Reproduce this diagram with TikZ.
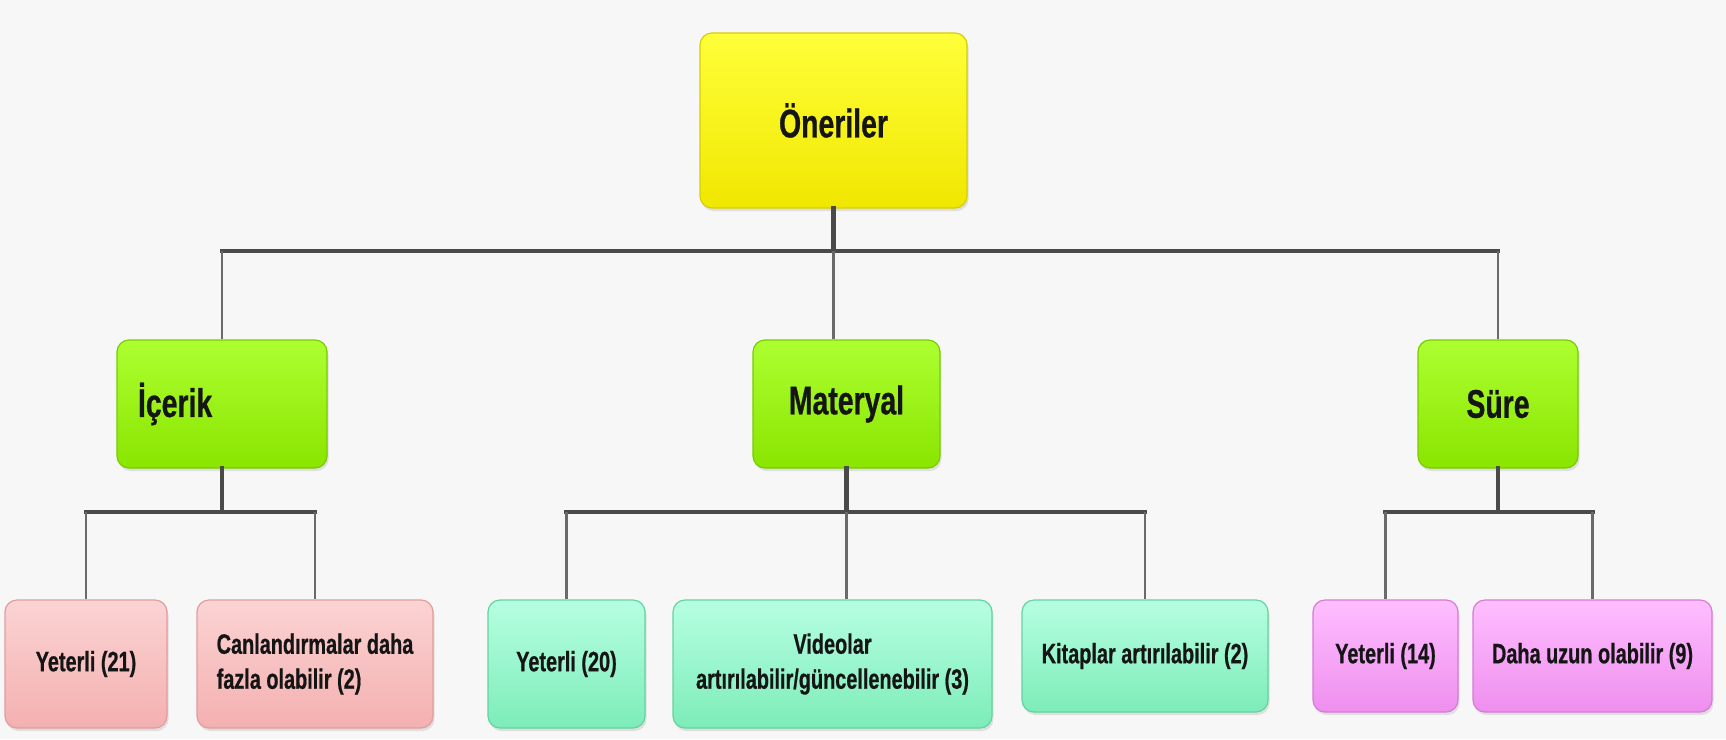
\documentclass[tikz,border=0pt]{standalone}
\usepackage{fontspec}
\newfontfamily\boxfont{Liberation Sans}[FakeStretch=0.71, FakeBold=0.6]
\usetikzlibrary{shadows}

\definecolor{bg}{HTML}{F7F7F7}
\definecolor{txt}{HTML}{151515}
\definecolor{linkc}{HTML}{4A4A4A}
\definecolor{twigc}{HTML}{6A6A6A}
% yellow root
\definecolor{yelT}{HTML}{FFFF3A}
\definecolor{yelB}{HTML}{F0E700}
\definecolor{yelD}{HTML}{D6CF00}
% lime category boxes
\definecolor{grnT}{HTML}{ADFF30}
\definecolor{grnB}{HTML}{8AE500}
\definecolor{grnD}{HTML}{79CC00}
% pink leaves
\definecolor{pnkT}{HTML}{FBD3D3}
\definecolor{pnkB}{HTML}{F4B0B0}
\definecolor{pnkD}{HTML}{E39C9C}
% mint leaves
\definecolor{mntT}{HTML}{B6FFE2}
\definecolor{mntB}{HTML}{7DECB8}
\definecolor{mntD}{HTML}{62D4A0}
% magenta leaves
\definecolor{magT}{HTML}{FFBEFF}
\definecolor{magB}{HTML}{EE8FEE}
\definecolor{magD}{HTML}{D67AD6}

\begin{document}
\begin{tikzpicture}[x=1pt,y=-1pt,
  box/.style={rectangle, rounded corners=12pt, line width=1.2pt, inner sep=0pt,
    align=center, text=txt,
    drop shadow={shadow xshift=1.5pt, shadow yshift=-3pt, opacity=0.2}},
  bigtext/.style={font=\boxfont\bfseries\fontsize{40}{48}\selectfont},
  smalltext/.style={font=\boxfont\bfseries\fontsize{28}{35}\selectfont},
  rootbox/.style={box, bigtext, draw=yelD, top color=yelT, bottom color=yelB},
  catbox/.style={box, bigtext, draw=grnD, top color=grnT, bottom color=grnB, minimum height=128pt},
  pinkbox/.style={box, smalltext, draw=pnkD, top color=pnkT, bottom color=pnkB, minimum height=128pt},
  mintbox/.style={box, smalltext, draw=mntD, top color=mntT, bottom color=mntB},
  magbox/.style={box, smalltext, draw=magD, top color=magT, bottom color=magB, minimum height=112pt},
  trunk/.style={draw=linkc, line width=4.5pt, line cap=rect},
  twig/.style={draw=twigc, line width=2.2pt},
]
\useasboundingbox (0,0) rectangle (1726,739);
\fill[bg] (0,0) rectangle (1726,739);

% root
\node[rootbox, minimum width=267pt, minimum height=175pt] (root) at (833.5,120.5) {Öneriler};

% categories
\node[catbox, minimum width=210pt, text width=168pt, inner xsep=21pt, align=left] (icerik) at (222,404) {İçerik};
\node[catbox, minimum width=187pt] (materyal) at (846.5,404) {Materyal};
\node[catbox, minimum width=160pt] (sure) at (1498,404) {Süre};

% İçerik leaves
\node[pinkbox, minimum width=162pt] (y21) at (86,664) {Yeterli (21)};
\node[pinkbox, minimum width=236pt, align=left] (canl) at (315,664) {Canlandırmalar daha\\fazla olabilir (2)};

% Materyal leaves
\node[mintbox, minimum width=157pt, minimum height=128pt] (y20) at (566.5,664) {Yeterli (20)};
\node[mintbox, minimum width=319pt, minimum height=128pt] (video) at (832.5,664) {Videolar\\artırılabilir/güncellenebilir (3)};
\node[mintbox, minimum width=246pt, minimum height=112pt] (kitap) at (1145,656) {Kitaplar artırılabilir (2)};

% Süre leaves
\node[magbox, minimum width=145pt] (y14) at (1385.5,656) {Yeterli (14)};
\node[magbox, minimum width=239pt] (daha) at (1592.5,656) {Daha uzun olabilir (9)};

% bus levels
\coordinate (bar0) at (0,251);
\coordinate (bar1) at (0,512);

% root to categories
\draw[trunk] (root.south) -- (root.south |- bar0);
\draw[trunk] (icerik.north |- bar0) -- (sure.north |- bar0);
\draw[twig] (icerik.north |- bar0) -- (icerik.north);
\draw[twig] (root.south |- bar0) -- (root.south |- materyal.north);
\draw[twig] (sure.north |- bar0) -- (sure.north);

% İçerik branch
\draw[trunk] (icerik.south) -- (icerik.south |- bar1);
\draw[trunk] (y21.north |- bar1) -- (canl.north |- bar1);
\draw[twig] (y21.north |- bar1) -- (y21.north);
\draw[twig] (canl.north |- bar1) -- (canl.north);

% Materyal branch
\draw[trunk] (materyal.south) -- (materyal.south |- bar1);
\draw[trunk] (y20.north |- bar1) -- (kitap.north |- bar1);
\draw[twig] (y20.north |- bar1) -- (y20.north);
\draw[twig] (materyal.south |- bar1) -- (materyal.south |- video.north);
\draw[twig] (kitap.north |- bar1) -- (kitap.north);

% Süre branch
\draw[trunk] (sure.south) -- (sure.south |- bar1);
\draw[trunk] (y14.north |- bar1) -- (daha.north |- bar1);
\draw[twig] (y14.north |- bar1) -- (y14.north);
\draw[twig] (daha.north |- bar1) -- (daha.north);
\end{tikzpicture}
\end{document}
